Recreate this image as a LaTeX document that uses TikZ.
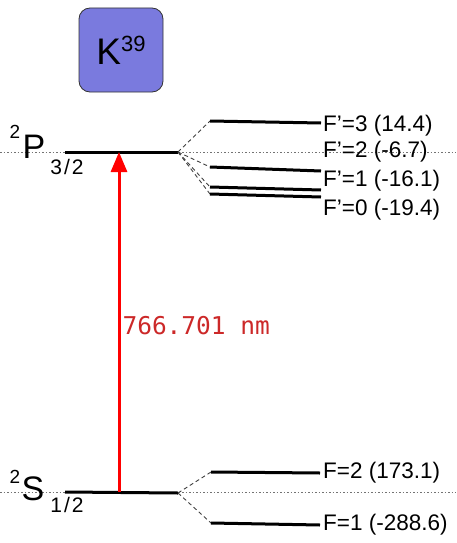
\documentclass[tikz,border=0pt]{standalone}
\usepackage{fontspec}
\setmainfont{Liberation Sans}
\newfontfamily\wavefont{DejaVu Sans Mono}
\usetikzlibrary{arrows.meta,positioning,calc}
\usepackage{xcolor}
\definecolor{isoblue}{RGB}{122,122,222}
\definecolor{wavered}{RGB}{204,40,40}

\begin{document}
\begin{tikzpicture}[
    x=1pt, y=-1pt,
    isobox/.style={
        draw=black!80, line width=0.8pt, rounded corners=11pt,
        minimum width=84pt, minimum height=84pt, fill=isoblue
    },
    level/.style={line width=3pt, black},
    split/.style={dash pattern=on 4pt off 3pt, black!75, line width=0.9pt},
    guide/.style={dash pattern=on 1.5pt off 2pt, black!55, line width=0.7pt},
    laser/.style={
        -{Triangle[length=20pt,width=16pt]}, line width=3pt, red
    },
    flabel/.style={anchor=west, inner sep=0pt, font=\fontsize{22.5}{26}\selectfont},
    txt/.style={inner sep=0pt}
]
\useasboundingbox (0,0) rectangle (456,543);

% Isotope box
\node[isobox] (iso) at (121,50)
    {\fontsize{37}{40}\selectfont K\raisebox{13pt}{\fontsize{22}{24}\selectfont 39}};

% Fine structure levels (end points)
\coordinate (pl) at (0,152);   \coordinate (pr) at (456,152);
\coordinate (sl) at (0,492);   \coordinate (sr) at (456,492);
\coordinate (p0) at (65,152);  \coordinate (p1) at (178,152);
\coordinate (s0) at (65,492);  \coordinate (s1) at (178,493);

% Dotted guides
\draw[guide] (pl) -- (pr);
\draw[guide] (sl) -- (sr);

% Term symbols
\node[txt, font=\fontsize{19}{22}\selectfont] (psup) at (15,132) {2};
\node[txt, font=\fontsize{34}{38}\selectfont] (pterm) at (34,147) {P};
\node[txt, font=\fontsize{21}{24}\selectfont] (psub) at (67,167) {3\hspace{2pt}/\hspace{2pt}2};
\node[txt, font=\fontsize{19}{22}\selectfont] (ssup) at (15,477) {2};
\node[txt, font=\fontsize{34}{38}\selectfont] (sterm) at (33,489) {S};
\node[txt, font=\fontsize{21}{24}\selectfont] (ssub) at (67,505) {1\hspace{2pt}/\hspace{2pt}2};

\draw[level] (p0) -- (p1);
\draw[level] (s0) -- (s1);

% Hyperfine levels of 2P3/2
\coordinate (f3a) at (210,121); \coordinate (f3b) at (321,123);
\coordinate (f2a) at (210,167); \coordinate (f2b) at (321,171);
\coordinate (f1a) at (210,187); \coordinate (f1b) at (321,190);
\coordinate (f0a) at (210,194); \coordinate (f0b) at (321,197);

\draw[split] (p1) -- (f3a);
\draw[split] (p1) -- (f2a);
\draw[split] (p1) -- (f1a);
\draw[split] (p1) -- (f0a);
\draw[level] (f3a) -- (f3b);
\draw[level] (f2a) -- (f2b);
\draw[level] (f1a) -- (f1b);
\draw[level] (f0a) -- (f0b);

\node[flabel] (lf3) at (323,126) {F’=3 (14.4)};
\node[flabel] (lf2) at (323,152) {F’=2 (-6.7)};
\node[flabel] (lf1) at (323,181) {F’=1 (-16.1)};
\node[flabel] (lf0) at (323,210) {F’=0 (-19.4)};

% Hyperfine levels of 2S1/2
\coordinate (g2a) at (211,472); \coordinate (g2b) at (320,473);
\coordinate (g1a) at (211,523); \coordinate (g1b) at (320,525);

\draw[split] (s1) -- (g2a);
\draw[split] (s1) -- (g1a);
\draw[level] (g2a) -- (g2b);
\draw[level] (g1a) -- (g1b);

\node[flabel] (lg2) at (323,473) {F=2 (173.1)};
\node[flabel] (lg1) at (323,525) {F=1 (-288.6)};

% D2 transition
\coordinate (lo) at (119,492);
\coordinate (up) at (119,152);
\draw[laser] (lo) -- (up)
    node[pos=0.49, right=2pt, txt, text=wavered, font=\wavefont\fontsize{24.5}{28}\selectfont] (wave) {766.701 nm};

\end{tikzpicture}
\end{document}
